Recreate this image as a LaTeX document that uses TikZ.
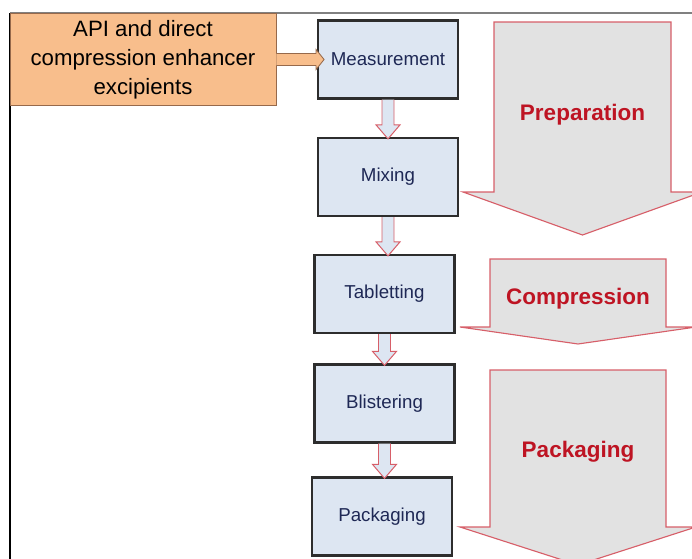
\documentclass[tikz,border=0pt]{standalone}
\usepackage{fontspec}
\setmainfont{Liberation Sans}
\usepackage{tikz}
\usetikzlibrary{arrows,positioning,calc}
\definecolor{boxfill}{RGB}{221,230,242}
\definecolor{boxline}{RGB}{45,45,45}
\definecolor{boxtext}{RGB}{30,40,85}
\definecolor{apifill}{RGB}{248,190,140}
\definecolor{apiline}{RGB}{150,105,75}
\definecolor{bigfill}{RGB}{226,226,226}
\definecolor{bigline}{RGB}{215,95,105}
\definecolor{stagetext}{RGB}{190,20,35}
\tikzset{
    %Define style for process boxes
    process/.style={
           rectangle,
           draw=boxline, line width=1.6pt,
           minimum width=3.5cm,
           minimum height=1.95cm,
           font=\fontsize{13.3}{16}\selectfont,
           text=boxtext,
           text centered,
           fill=boxfill},
    %Define style for the input box
    input/.style={
           rectangle,
           draw=apiline, line width=0.6pt,
           minimum width=6.65cm,
           minimum height=2.3cm,
           font=\fontsize{15.8}{20.5}\selectfont,
           align=center,
           fill=apifill},
    % Define style for stage labels
    stage/.style={
           font=\bfseries\fontsize{16}{19}\selectfont,
           text=stagetext},
    % Define arrow styles
    steparrow/.style={
           draw=bigline, line width=0.7pt,
           fill=boxfill},
    feedarrow/.style={
           draw=apiline, line width=0.6pt,
           fill=apifill},
    bigarrow/.style={
           draw=bigline, line width=0.8pt,
           fill=bigfill}
}
% hollow arrow from one box down to the next
\newcommand{\stepdown}[2]{%
  \filldraw[steparrow] let \p1=(#1.south), \p2=(#2.north) in
    (\x1-0.15cm,\y1) -- (\x1-0.15cm,\y2+0.3cm) -- (\x1-0.3cm,\y2+0.3cm)
    -- (\x1,\y2-0.05cm) -- (\x1+0.3cm,\y2+0.3cm) -- (\x1+0.15cm,\y2+0.3cm)
    -- (\x1+0.15cm,\y1);}
% hollow arrow from the input box into a process box
\newcommand{\feedright}[2]{%
  \filldraw[feedarrow] let \p1=(#1.east), \p2=(#2.west) in
    (\x1,\y1+0.15cm) -- (\x2-0.02cm,\y1+0.15cm) -- (\x2-0.02cm,\y1+0.25cm)
    -- (\x2+0.18cm,\y1) -- (\x2-0.02cm,\y1-0.25cm) -- (\x2-0.02cm,\y1-0.15cm)
    -- (\x1,\y1-0.15cm);}

\begin{document}
\begin{tikzpicture}[x=0.025cm,y=-0.025cm]
\useasboundingbox (0,0) rectangle (692,559);
\clip (0,0) rectangle (692,559);
% frame
\draw[gray, line width=0.8pt] (10,13) -- (692,13);
\draw[black, line width=0.8pt] (10,13) -- (10,559);
% stages
\draw[bigarrow] (494,22) -- (671,22) -- (671,192) -- (702,192) -- (582.5,235)
    -- (463,192) -- (494,192) -- cycle;
\node[stage] (prep) at (582.5,115) {Preparation};
\draw[bigarrow] (490,259) -- (666,259) -- (666,327) -- (696,327) -- (578,344)
    -- (460,327) -- (490,327) -- cycle;
\node[stage] (comp) at (578,299) {Compression};
\draw[bigarrow] (490,370) -- (666,370) -- (666,527) -- (696,527) -- (578,565)
    -- (460,527) -- (490,527) -- cycle;
\node[stage] (pack) at (578,452) {Packaging};
% process chain
\node[input] (api) at (143,59.5) {API and direct\\compression enhancer\\excipients};
\node[process] (meas) at (388,59.5) {Measurement};
\node[process] (mix) at (388,177) {Mixing};
\node[process] (tab) at (384.5,294) {Tabletting};
\node[process] (blis) at (384.5,403.5) {Blistering};
\node[process] (packg) at (382,516.5) {Packaging};
\feedright{api}{meas}
\stepdown{meas}{mix}
\stepdown{mix}{tab}
\stepdown{tab}{blis}
\stepdown{blis}{packg}
\end{tikzpicture}
\end{document}
